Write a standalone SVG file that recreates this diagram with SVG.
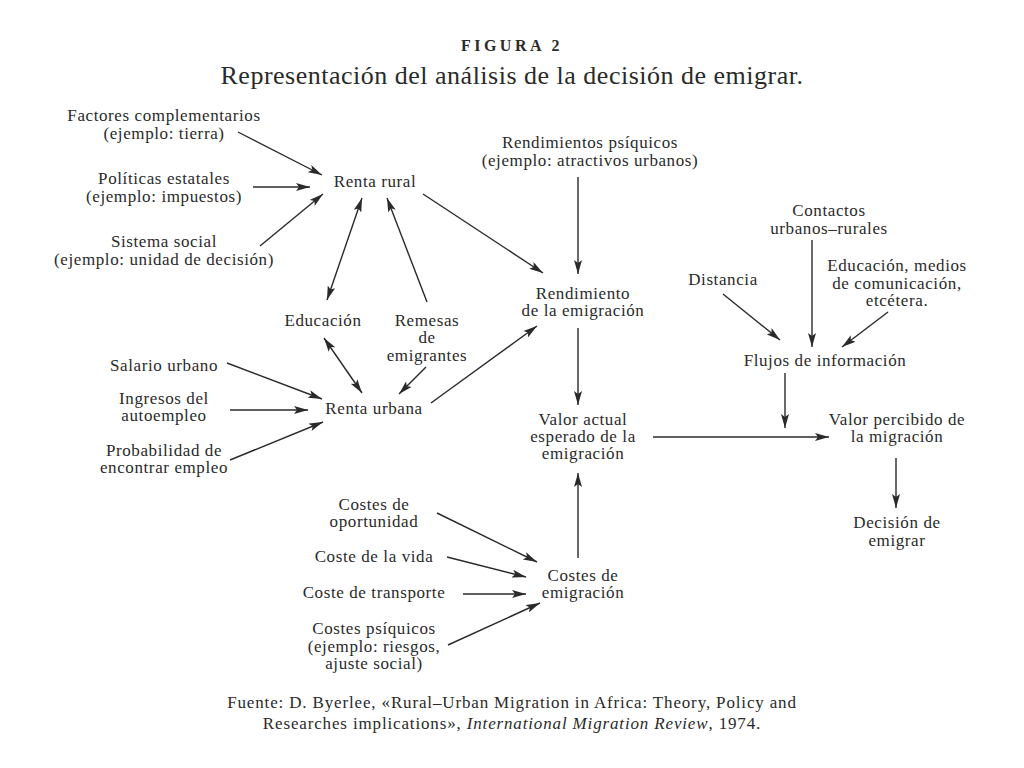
<svg xmlns="http://www.w3.org/2000/svg" width="1024" height="768" viewBox="0 0 1024 768">
<defs>
<style>
text{font-family:"Liberation Serif","DejaVu Serif",serif;fill:#2a2a2a;font-size:17px;letter-spacing:0.6px;text-anchor:middle}
.t{font-size:26px;letter-spacing:0.5px}
.f{font-size:16px;font-weight:bold;letter-spacing:3.5px}
.src{font-size:17px;letter-spacing:0.85px}
line{stroke:#2a2a2a;stroke-width:1.4;fill:none}
</style>
<marker id="ah" viewBox="0 0 14 8" refX="14" refY="4" markerWidth="14" markerHeight="8" markerUnits="userSpaceOnUse" orient="auto-start-reverse">
<path d="M0,0 L14,4 L0,8 L3,4 Z" fill="#2a2a2a"/>
</marker>
</defs>
<rect width="1024" height="768" fill="#ffffff"/>
<g id="title">
<text class="f" x="512" y="51">FIGURA 2</text>
<text class="t" x="512" y="84">Representación del análisis de la decisión de emigrar.</text>
</g>
<g id="factores"><text x="164" y="121">Factores complementarios</text><text x="164" y="139">(ejemplo: tierra)</text></g>
<g id="politicas"><text x="164" y="184">Políticas estatales</text><text x="164" y="202">(ejemplo: impuestos)</text></g>
<g id="sistema"><text x="164" y="247">Sistema social</text><text x="164" y="265">(ejemplo: unidad de decisión)</text></g>
<g id="renta-rural"><text x="375" y="187">Renta rural</text></g>
<g id="rend-psiquicos"><text x="590" y="148">Rendimientos psíquicos</text><text x="590" y="166">(ejemplo: atractivos urbanos)</text></g>
<g id="rendimiento"><text x="583" y="299">Rendimiento</text><text x="583" y="316">de la emigración</text></g>
<g id="educacion"><text x="323" y="326">Educación</text></g>
<g id="remesas"><text x="427" y="326">Remesas</text><text x="427" y="343">de</text><text x="427" y="361">emigrantes</text></g>
<g id="salario"><text x="164" y="371">Salario urbano</text></g>
<g id="ingresos"><text x="164" y="404">Ingresos del</text><text x="164" y="421">autoempleo</text></g>
<g id="probabilidad"><text x="164" y="456">Probabilidad de</text><text x="164" y="473">encontrar empleo</text></g>
<g id="renta-urbana"><text x="374" y="414">Renta urbana</text></g>
<g id="valor-actual"><text x="583" y="425">Valor actual</text><text x="583" y="442">esperado de la</text><text x="583" y="459">emigración</text></g>
<g id="contactos"><text x="829" y="216">Contactos</text><text x="829" y="234">urbanos–rurales</text></g>
<g id="distancia"><text x="723" y="285">Distancia</text></g>
<g id="educ-medios"><text x="897" y="271">Educación, medios</text><text x="897" y="289">de comunicación,</text><text x="897" y="306">etcétera.</text></g>
<g id="flujos"><text x="825" y="366">Flujos de información</text></g>
<g id="valor-percibido"><text x="897" y="425">Valor percibido de</text><text x="897" y="442">la migración</text></g>
<g id="decision"><text x="897" y="528">Decisión de</text><text x="897" y="546">emigrar</text></g>
<g id="costes-oport"><text x="374" y="510">Costes de</text><text x="374" y="527">oportunidad</text></g>
<g id="coste-vida"><text x="374" y="562">Coste de la vida</text></g>
<g id="coste-transporte"><text x="374" y="598">Coste de transporte</text></g>
<g id="costes-psiquicos"><text x="374" y="634">Costes psíquicos</text><text x="374" y="652">(ejemplo: riesgos,</text><text x="374" y="669">ajuste social)</text></g>
<g id="costes-emigracion"><text x="583" y="581">Costes de</text><text x="583" y="598">emigración</text></g>
<g id="fuente">
<text class="src" x="512" y="708">Fuente: D. Byerlee, «Rural–Urban Migration in Africa: Theory, Policy and</text>
<text class="src" x="512" y="729">Researches implications», <tspan font-style="italic">International Migration Review</tspan>, 1974.</text>
</g>
<g id="connectors">
<line x1="238" y1="132" x2="322" y2="175" marker-end="url(#ah)"/>
<line x1="253" y1="187" x2="310" y2="187" marker-end="url(#ah)"/>
<line x1="260" y1="246" x2="323" y2="194" marker-end="url(#ah)"/>
<line x1="423" y1="194" x2="543" y2="273" marker-end="url(#ah)"/>
<line x1="362" y1="198" x2="327" y2="300" marker-start="url(#ah)" marker-end="url(#ah)"/>
<line x1="427" y1="302" x2="387" y2="198" marker-end="url(#ah)"/>
<line x1="324" y1="338" x2="362" y2="393" marker-start="url(#ah)" marker-end="url(#ah)"/>
<line x1="426" y1="367" x2="399" y2="394" marker-end="url(#ah)"/>
<line x1="431" y1="403" x2="537" y2="326" marker-end="url(#ah)"/>
<line x1="227" y1="363" x2="322" y2="399" marker-end="url(#ah)"/>
<line x1="230" y1="410" x2="308" y2="410" marker-end="url(#ah)"/>
<line x1="230" y1="460" x2="323" y2="422" marker-end="url(#ah)"/>
<line x1="578" y1="177" x2="578" y2="274" marker-end="url(#ah)"/>
<line x1="578" y1="328" x2="578" y2="405" marker-end="url(#ah)"/>
<line x1="812" y1="240" x2="812" y2="347" marker-end="url(#ah)"/>
<line x1="723" y1="294" x2="780" y2="340" marker-end="url(#ah)"/>
<line x1="888" y1="312" x2="842" y2="347" marker-end="url(#ah)"/>
<line x1="785" y1="373" x2="785" y2="428" marker-end="url(#ah)"/>
<line x1="653" y1="437" x2="829" y2="437" marker-end="url(#ah)"/>
<line x1="896" y1="458" x2="896" y2="508" marker-end="url(#ah)"/>
<line x1="578" y1="558" x2="578" y2="473" marker-end="url(#ah)"/>
<line x1="437" y1="513" x2="537" y2="562" marker-end="url(#ah)"/>
<line x1="447" y1="557" x2="526" y2="577" marker-end="url(#ah)"/>
<line x1="463" y1="594" x2="526" y2="594" marker-end="url(#ah)"/>
<line x1="448" y1="645" x2="540" y2="603" marker-end="url(#ah)"/>
</g>
</svg>
